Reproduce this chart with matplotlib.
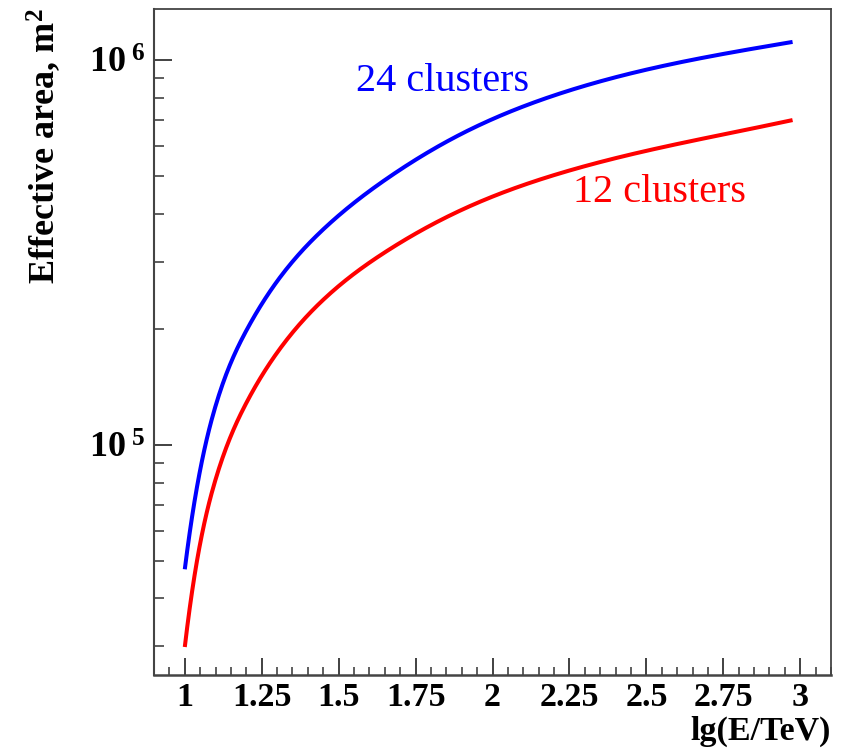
import matplotlib
matplotlib.use("Agg")
import matplotlib.pyplot as plt
from matplotlib.ticker import FuncFormatter, MultipleLocator, LogLocator, NullFormatter
import numpy as np

plt.rcParams['font.family'] = ['Liberation Serif', 'DejaVu Serif']
plt.rcParams['mathtext.fontset'] = 'custom'
plt.rcParams['mathtext.rm'] = 'Liberation Serif'
plt.rcParams['mathtext.bf'] = 'Liberation Serif:bold'
plt.rcParams['mathtext.it'] = 'Liberation Serif:italic'

# lg(E/TeV) and effective area (m^2)
x_24 = [1.0, 1.05, 1.1, 1.2, 1.3, 1.45, 1.65, 1.9, 2.2, 2.6, 2.975]
a_24 = [47600, 86300, 126500, 198600, 266700, 363900, 488700, 645000, 810900, 985100, 1117000]

x_12 = [1.0, 1.05, 1.1, 1.2, 1.3, 1.45, 1.65, 1.9, 2.2, 2.6, 2.975]
a_12 = [29900, 55590, 81470, 128800, 174000, 238800, 317100, 409000, 503500, 606300, 699800]

label_24 = "24 clusters"
label_12 = "12 clusters"
x_title = "lg(E/TeV)"
y_title = r"Effective area, m$^{\mathbf{2}}$"


def spline_log(x, y, n=500):
    """Not-a-knot cubic spline through the read points, in log space (display only)."""
    xa = np.asarray(x, float)
    ya = np.log10(np.asarray(y, float))
    N = len(xa)
    h = np.diff(xa)
    A = np.zeros((N, N))
    b = np.zeros(N)
    A[0, 0] = h[1]; A[0, 1] = -(h[0] + h[1]); A[0, 2] = h[0]
    A[-1, -3] = h[-1]; A[-1, -2] = -(h[-2] + h[-1]); A[-1, -1] = h[-2]
    for i in range(1, N - 1):
        A[i, i - 1] = h[i - 1]
        A[i, i] = 2 * (h[i - 1] + h[i])
        A[i, i + 1] = h[i]
        b[i] = 6 * ((ya[i + 1] - ya[i]) / h[i] - (ya[i] - ya[i - 1]) / h[i - 1])
    M = np.linalg.solve(A, b)
    xs = np.linspace(xa[0], xa[-1], n)
    idx = np.clip(np.searchsorted(xa, xs, side='right') - 1, 0, N - 2)
    x0 = xa[idx]; x1 = xa[idx + 1]; hh = x1 - x0
    out = (M[idx] * (x1 - xs) ** 3 / (6 * hh) + M[idx + 1] * (xs - x0) ** 3 / (6 * hh)
           + (ya[idx] / hh - M[idx] * hh / 6) * (x1 - xs)
           + (ya[idx + 1] / hh - M[idx + 1] * hh / 6) * (xs - x0))
    return xs, 10 ** out


fig = plt.figure(figsize=(8.43, 7.52), dpi=100)
ax = fig.add_axes([0.1827, 0.1025, 0.8031, 0.8855])

xs, ys = spline_log(x_24, a_24)
ax.plot(xs, ys, color='#0000ff', lw=2.9, solid_capstyle='butt')
xs, ys = spline_log(x_12, a_12)
ax.plot(xs, ys, color='#ff0000', lw=2.9, solid_capstyle='butt')

ax.set_yscale('log')
ax.set_xlim(0.9, 3.1)
ax.set_ylim(25300, 1.36e6)

ax.xaxis.set_major_locator(MultipleLocator(0.25))
ax.xaxis.set_minor_locator(MultipleLocator(0.05))
ax.xaxis.set_major_formatter(FuncFormatter(lambda v, p: ('%g' % v)))
ax.yaxis.set_major_locator(LogLocator(base=10, numticks=10))
ax.yaxis.set_minor_locator(LogLocator(base=10, subs=np.arange(2, 10), numticks=20))
ax.yaxis.set_minor_formatter(NullFormatter())
ax.yaxis.set_major_formatter(FuncFormatter(
    lambda v, p: r'$\mathbf{10^{\ %d}}$' % int(round(np.log10(v)))))

for s in ax.spines.values():
    s.set_color('#444444')
    s.set_linewidth(1.3)
ax.spines['bottom'].set_linewidth(1.8)
ax.spines['left'].set_linewidth(1.5)

ax.tick_params(which='both', direction='in', top=False, right=False, color='#333333')
ax.tick_params(axis='x', which='major', length=12, width=1.3, pad=5, labelsize=24.5)
ax.tick_params(axis='x', which='minor', length=6, width=1.1)
ax.tick_params(axis='y', which='major', length=13, width=1.3, pad=6, labelsize=26)
ax.tick_params(axis='y', which='minor', length=7, width=1.1)
for lab in ax.get_xticklabels():
    lab.set_fontweight('bold')

ax.text(1.555, 8.32e5, label_24, color='#0000ff', fontsize=29, va='baseline', ha='left')
ax.text(2.26, 4.29e5, label_12, color='#ff0000', fontsize=29, va='baseline', ha='left')

fig.text(0.9858, 1 - 740 / 752, x_title, fontsize=24.5, fontweight='bold', ha='right', va='baseline')
fig.text(44 / 843, 1 - 8 / 752, y_title, fontsize=26, fontweight='bold', rotation=90,
         ha='center', va='top')

fig.savefig('out.png', dpi=100)
